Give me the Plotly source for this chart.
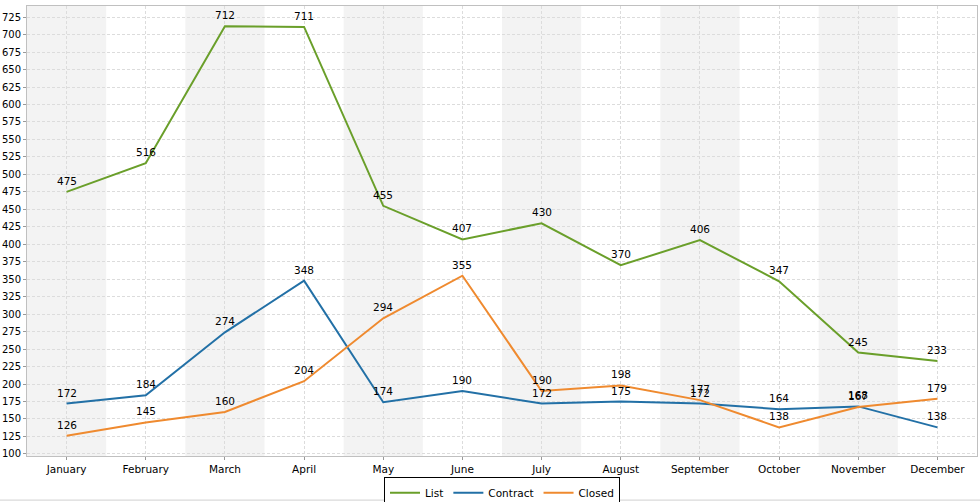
import plotly.graph_objects as go

months = ["January", "February", "March", "April", "May", "June", "July",
          "August", "September", "October", "November", "December"]
list_vals = [475, 516, 712, 711, 455, 407, 430, 370, 406, 347, 245, 233]
contract_vals = [172, 184, 274, 348, 174, 190, 172, 175, 172, 164, 168, 138]
closed_vals = [126, 145, 160, 204, 294, 355, 190, 198, 177, 138, 167, 179]
y_ticks = list(range(100, 726, 25))

series = [
    ("List", list_vals, "#6a9f2a"),
    ("Contract", contract_vals, "#2270a6"),
    ("Closed", closed_vals, "#ef8a2f"),
]

FONT = "DejaVu Sans"
fig = go.Figure()
annotations = []
for name, vals, color in series:
    fig.add_trace(go.Scatter(
        x=list(range(len(months))), y=vals, name=name, mode="lines",
        line=dict(color=color, width=2),
    ))
    for i, v in enumerate(vals):
        annotations.append(dict(x=i, y=v, xref="x", yref="y", text=str(v),
                                showarrow=False, yshift=11,
                                font=dict(family=FONT, size=10.5, color="#000000")))

shapes = []
for i in range(0, len(months), 2):
    shapes.append(dict(type="rect", xref="x", yref="paper", x0=i - 0.5, x1=i + 0.5,
                       y0=0, y1=1, fillcolor="#f3f3f3", line=dict(width=0), layer="below"))
shapes.append(dict(type="line", xref="paper", yref="paper", x0=-0.03, x1=1.01,
                   y0=-0.098, y1=-0.098, line=dict(color="#d0d0d0", width=1)))

fig.update_layout(
    width=980, height=502,
    margin=dict(l=27, r=3, t=6, b=46, autoexpand=False),
    paper_bgcolor="white", plot_bgcolor="white",
    font=dict(family=FONT, size=11, color="#000000"),
    showlegend=True,
    legend=dict(orientation="h", x=0.5, xanchor="center", y=-0.047, yanchor="top",
                bordercolor="#000000", borderwidth=1, bgcolor="white",
                font=dict(family=FONT, size=10.5), itemwidth=30,
                tracegroupgap=0),
    shapes=shapes,
    annotations=annotations,
    xaxis=dict(
        tickmode="array", tickvals=list(range(len(months))), ticktext=months,
        range=[-0.5, len(months) - 0.5], automargin=False,
        showgrid=True, gridcolor="#dcdcdc", griddash="3px,2px", gridwidth=1,
        showline=True, linecolor="#c0c0c0", mirror=True,
        ticks="outside", ticklen=3, tickcolor="#999999",
        tickfont=dict(family=FONT, size=10.5), zeroline=False,
    ),
    yaxis=dict(
        tickmode="array", tickvals=y_ticks, range=[97, 741], automargin=False,
        showgrid=True, gridcolor="#dcdcdc", griddash="3px,2px", gridwidth=1,
        showline=True, linecolor="#c0c0c0", mirror=True,
        ticks="outside", ticklen=3, tickcolor="#999999",
        tickfont=dict(family=FONT, size=10), zeroline=False,
    ),
)

fig.write_html("out.html", config={"displayModeBar": False},
               post_script="document.body.style.margin='0';document.body.style.overflow='hidden';")
